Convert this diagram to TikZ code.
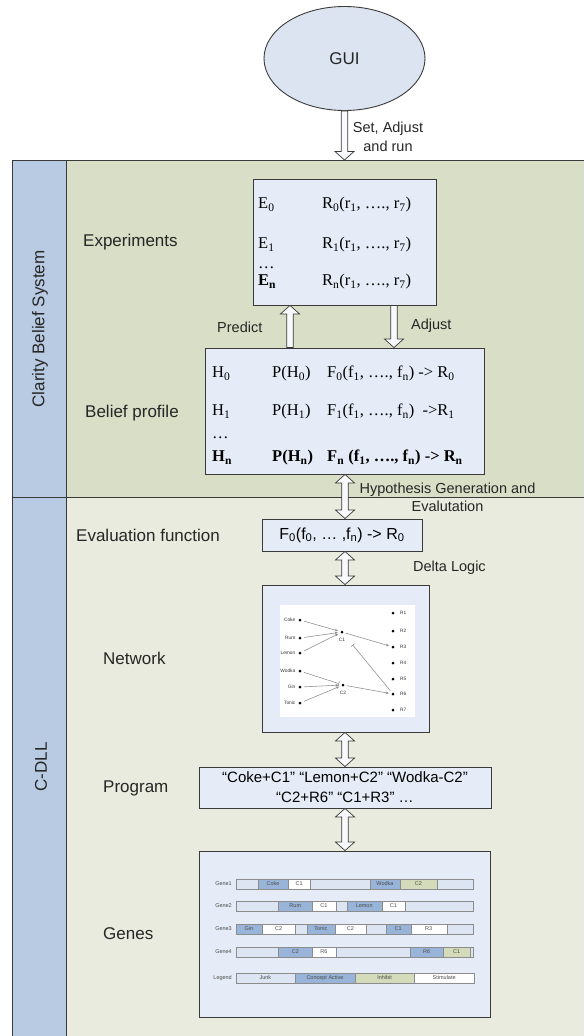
\documentclass[tikz,border=0pt]{standalone}
\usepackage{fontspec}
\setmainfont{Liberation Sans}
\newfontfamily\serifface{Liberation Serif}
\usetikzlibrary{calc,shapes.geometric,arrows.meta}

\definecolor{bandtop}{HTML}{D9DEC6}
\definecolor{bandlow}{HTML}{E9EBDE}
\definecolor{sidebar}{HTML}{B9CBE3}
\definecolor{boxfill}{HTML}{E6ECF7}
\definecolor{guifill}{HTML}{DCE4F2}
\definecolor{edge}{HTML}{3A3A3A}
\definecolor{junk}{HTML}{DCE5F1}
\definecolor{active}{HTML}{98B4D8}
\definecolor{inhibit}{HTML}{D3DBBB}
\definecolor{netline}{HTML}{8C8C8C}

\newcommand\sbs[1]{\textsubscript{#1}}

% hollow block arrows between two named points (x taken from the first)
\newcommand\blkdown[2]{%
  \draw[blockarrow] let \p1=(#1), \p2=(#2) in
    (\x1-3.2pt,\y1) -- (\x1-3.2pt,\y2+8.5pt) -- (\x1-9.5pt,\y2+8.5pt) -- (\x1,\y2)
    -- (\x1+9.5pt,\y2+8.5pt) -- (\x1+3.2pt,\y2+8.5pt) -- (\x1+3.2pt,\y1) -- cycle;}
\newcommand\blkup[2]{%
  \draw[blockarrow] let \p1=(#1), \p2=(#2) in
    (\x1-3.2pt,\y1) -- (\x1-3.2pt,\y2-8.5pt) -- (\x1-9.5pt,\y2-8.5pt) -- (\x1,\y2)
    -- (\x1+9.5pt,\y2-8.5pt) -- (\x1+3.2pt,\y2-8.5pt) -- (\x1+3.2pt,\y1) -- cycle;}
\newcommand\blkboth[2]{%
  \draw[blockarrow] let \p1=(#1), \p2=(#2) in
    (\x1,\y1) -- (\x1+9.5pt,\y1-8.5pt) -- (\x1+3.2pt,\y1-8.5pt) -- (\x1+3.2pt,\y2+8.5pt)
    -- (\x1+9.5pt,\y2+8.5pt) -- (\x1,\y2) -- (\x1-9.5pt,\y2+8.5pt) -- (\x1-3.2pt,\y2+8.5pt)
    -- (\x1-3.2pt,\y1-8.5pt) -- (\x1-9.5pt,\y1-8.5pt) -- cycle;}

% one gene bar: name, y, list of x-start/x-end/colour/text
\newcommand\generow[3]{%
  \foreach \xa/\xb/\fc/\tx [count=\k] in {#3}
    \node[seg, fill=\fc, minimum width={(\xb-\xa)*1pt}] (#1-\k) at ({(\xa+\xb)/2},#2) {\tx};}

\tikzset{
  frame/.style={draw=edge, line width=0.9pt},
  panel/.style={rectangle, draw=edge, fill=boxfill, line width=0.9pt, inner sep=0pt},
  lbl/.style={font=\fontsize{17}{20}\selectfont, text=black!85, inner sep=0pt},
  note/.style={font=\fontsize{14.5}{18.5}\selectfont, text=black!85, inner sep=0pt},
  cell/.style={font=\serifface\fontsize{16.5}{19}\selectfont, anchor=west, inner sep=0pt,
               text height=11pt, text depth=0pt},
  boldcell/.style={cell, font=\serifface\bfseries\fontsize{16.5}{19}\selectfont},
  blockarrow/.style={draw=edge, fill=white!75!boxfill, line width=0.7pt, line join=miter},
  netdot/.style={circle, fill=black, inner sep=0pt, minimum size=3pt},
  netlab/.style={font=\fontsize{4.8}{5}\selectfont, text=black!80, inner sep=0pt},
  netedge/.style={draw=netline, line width=0.55pt, shorten >=2.5pt, shorten <=2.5pt},
  stim/.style={netedge, -{Stealth[length=3.2pt, width=2.6pt]}},
  inhib/.style={netedge, -{Bar[width=4.5pt, line width=0.55pt]}},
  seg/.style={draw=black!45, line width=0.4pt, minimum height=10pt, inner sep=0pt,
              font=\fontsize{5.5}{6}\selectfont, text=black!70},
  genelab/.style={font=\fontsize{5.5}{6}\selectfont, text=black!70, anchor=east, inner sep=0pt},
}

\begin{document}
\begin{tikzpicture}[x=1pt, y=-1pt]
\useasboundingbox (0,0) rectangle (584,1036);

% swim-lane background
\fill[bandtop] (12,160) rectangle (584,497);
\fill[bandlow] (12,497) rectangle (584,1036);
\fill[sidebar] (12,160) rectangle (66,1036);
\draw[frame] (584,160) -- (12,160) -- (12,1036);
\draw[frame] (12,497) -- (584,497);
\draw[frame] (66,160) -- (66,1036);
\node[lbl, rotate=90] (laneA) at (40,329) {Clarity Belief System};
\node[lbl, rotate=90] (laneB) at (41,767) {C-DLL};

% GUI
\node[ellipse, draw=edge, fill=guifill, line width=0.9pt, minimum width=161pt,
      minimum height=104pt, lbl] (gui) at (344.5,58.5) {GUI};
\coordinate (lanetop) at (344.5,160);
\blkdown{gui.south}{lanetop}
\node[note, align=center] (setlbl) at (388,137) {Set, Adjust\\and run};

% row labels
\node[lbl, anchor=west] (lexp) at (83,242) {Experiments};
\node[lbl, anchor=west] (lbel) at (85,413) {Belief profile};
\node[lbl, anchor=west] (leval) at (76,535) {Evaluation function};
\node[lbl, anchor=west] (lnet) at (103,658) {Network};
\node[lbl, anchor=west] (lprog) at (103,788) {Program};
\node[lbl, anchor=west] (lgen) at (103,934) {Genes};

% experiments
\node[panel, minimum width=183pt, minimum height=126pt] (exp) at (344.5,242) {};
\node[cell] (e0) at (258,203) {E\sbs{0}};
\node[cell] (r0) at (322,203) {R\sbs{0}(r\sbs{1}, …., r\sbs{7})};
\node[cell] (e1) at (258,243) {E\sbs{1}};
\node[cell] (r1) at (322,243) {R\sbs{1}(r\sbs{1}, …., r\sbs{7})};
\node[cell] (edots) at (258,263) {…};
\node[cell] (en) at (258,280) {\bfseries E\sbs{n}};
\node[cell] (rn) at (322,280) {R\sbs{n}(r\sbs{1}, …., r\sbs{7})};

% belief profile
\node[panel, minimum width=279pt, minimum height=126pt] (belief) at (344.5,411) {};
\node[cell] (h0) at (212,372) {H\sbs{0}};
\node[cell] (p0) at (272,372) {P(H\sbs{0})};
\node[cell] (f0) at (327,372) {F\sbs{0}(f\sbs{1}, …., f\sbs{n}) -> R\sbs{0}};
\node[cell] (h1) at (212,410) {H\sbs{1}};
\node[cell] (p1) at (272,410) {P(H\sbs{1})};
\node[cell] (f1) at (327,410) {F\sbs{1}(f\sbs{1}, …., f\sbs{n})\ \ ->R\sbs{1}};
\node[cell] (hdots) at (212,433) {…};
\node[boldcell] (hn) at (212,456) {H\sbs{n}};
\node[boldcell] (pn) at (272,456) {P(H\sbs{n})};
\node[boldcell] (fn) at (327,456) {F\sbs{n} (f\sbs{1}, …., f\sbs{n}) -> R\sbs{n}};

\coordinate (predcol) at (290,0);
\coordinate (adjcol) at (394,0);
\blkup{belief.north -| predcol}{exp.south -| predcol}
\blkdown{exp.south -| adjcol}{belief.north -| adjcol}
\node[note, anchor=west] (predlbl) at (217,327) {Predict};
\node[note, anchor=west] (adjlbl) at (411,326) {Adjust};

% evaluation function
\node[panel, minimum width=160pt, minimum height=32pt, font=\fontsize{16}{19}\selectfont]
  (eval) at (342,535) {F\sbs{0}(f\sbs{0}, … ,f\sbs{n}) -> R\sbs{0}};
\coordinate (maincol) at (345,0);
\blkboth{belief.south -| maincol}{eval.north -| maincol}
\node[note, align=center] (hyplbl) at (447.5,497.5) {Hypothesis Generation and\\Evalutation};

% network
\node[panel, minimum width=167pt, minimum height=147pt] (net) at (345.5,658.5) {};
\node[fill=white, minimum width=135pt, minimum height=112pt, inner sep=0pt] (netimg) at (347,661) {};
\blkboth{eval.south -| maincol}{net.north -| maincol}
\node[note, anchor=west] (deltalbl) at (413,568) {Delta Logic};

\foreach \nm/\tx/\yy in {coke/Coke/620, rum/Rum/638, lemon/Lemon/653,
                         wodka/Wodka/671, gin/Gin/687, tonic/Tonic/703}{
  \node[netdot] (\nm) at (300,\yy) {};
  \node[netlab, anchor=east] (\nm-t) at (295.5,\yy) {\tx};
}
\node[netdot] (c1) at (342,632) {};
\node[netlab] (c1-t) at (342,640) {C1};
\node[netdot] (c2) at (343,685) {};
\node[netlab] (c2-t) at (343,693) {C2};
\foreach \k/\yy in {1/613, 2/631, 3/647, 4/663, 5/679, 6/694, 7/710}{
  \node[netdot] (rr\k) at (393,\yy) {};
  \node[netlab, anchor=west] (rr\k-t) at (400,\yy) {R\k};
}
\draw[stim] (coke) -- (c1);
\draw[stim] (rum) -- (c1);
\draw[stim] (lemon) -- (c1);
\draw[inhib] (wodka) -- (c2);
\draw[stim] (gin) -- (c2);
\draw[stim] (tonic) -- (c2);
\draw[stim] (c1) -- (rr3);
\draw[stim] (c2) -- (rr6);
\draw[inhib, shorten >=15pt] (rr6) -- (c1);

% program
\node[panel, minimum width=292pt, minimum height=41pt, align=center,
      font=\fontsize{15}{20}\selectfont] (prog) at (345,787.5)
  {“Coke+C1” “Lemon+C2” “Wodka-C2”\\“C2+R6” “C1+R3” …};
\blkboth{net.south -| maincol}{prog.north -| maincol}

% genes
\node[panel, minimum width=291pt, minimum height=166pt] (genes) at (344.5,934) {};
\blkboth{prog.south -| maincol}{genes.north -| maincol}

\node[genelab] (g1-t) at (232,884) {Gene1};
\generow{g1}{884}{235.7/257.7/junk/{}, 257.7/288.3/active/Coke, 288.3/310/white/C1,
  310/370/junk/{}, 370/400/active/Wodka, 400/436.7/inhibit/C2, 436.7/473.3/junk/{}}
\node[genelab] (g2-t) at (232,906) {Gene2};
\generow{g2}{906}{235.7/278.3/junk/{}, 278.3/312.3/active/Rum, 312.3/335.7/white/C1,
  335.7/346.7/junk/{}, 346.7/381.7/active/Lemon, 381.7/405/white/C1, 405/473.3/junk/{}}
\node[genelab] (g3-t) at (232,929) {Gene3};
\generow{g3}{929}{235.7/262.3/active/Gin, 262.3/295/white/C2, 295/306.7/junk/{},
  306.7/335/active/Tonic, 335/365.7/white/C2, 365.7/385.7/junk/{},
  385.7/410.7/active/C1, 410.7/446.7/white/R3, 446.7/473.3/junk/{}}
\node[genelab] (g4-t) at (232,952) {Gene4};
\generow{g4}{952}{235.7/278.3/junk/{}, 278.3/312.3/active/C2, 312.3/335.7/white/R6,
  335.7/410/junk/{}, 410/443.3/active/R6, 443.3/470/inhibit/C1, 470/473.3/junk/{}}
\node[genelab] (leg-t) at (232,978) {Legend};
\generow{leg}{978}{235.7/295/junk/Junk, 295/355/active/Concept Active,
  355/414.3/inhibit/Inhibit, 414.3/474/white/Stimulate}

\end{tikzpicture}
\end{document}
